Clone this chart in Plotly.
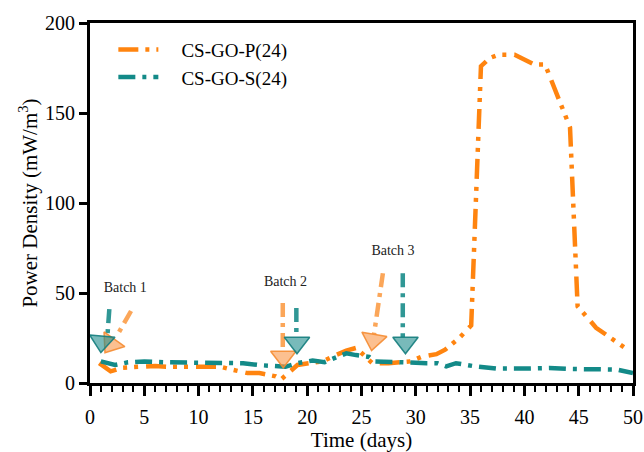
import plotly.graph_objects as go

# ---- data ----
p_days = [0.85, 1.9, 3, 4, 5, 6, 7, 8, 9, 10, 11, 12, 13.1, 14.5, 15.6, 17.1, 17.6, 18.4, 19.1, 20.2,
          21.4, 22.7, 23.6, 24.5, 26, 27.5, 28.5, 29.5, 30.5, 31.9, 32.7, 34, 35.1, 36, 36.8, 37.6,
          39.1, 40, 40.9, 41.9, 44.2, 44.9, 46.6, 48.2, 49.5]
p_vals = [11, 6.5, 8.5, 9, 9, 9.5, 9, 9, 9, 9, 9.5, 9, 7.4, 5.5, 5.5, 3.7, 2, 6.5, 10, 11,
          12, 15.7, 18, 19.5, 11, 11, 11.5, 12, 14.5, 16, 18.5, 25, 32, 176, 180.5, 182.4,
          182.4, 179.6, 177, 177, 142, 42.6, 30.7, 24, 18.5]

s_days = [1, 2.3, 3.5, 5, 7, 9, 11, 12.5, 14.1, 15.5, 17, 18, 19.1, 20.5, 21.6, 22.2, 23.6, 24.5,
          25.7, 26.2, 27.5, 29, 31, 32, 32.8, 33.7, 35.2, 37.4, 40, 42.3, 44, 46, 48.5, 50]
s_vals = [12, 10, 11.5, 12, 11.5, 11.5, 11.5, 11.5, 11, 10, 9.5, 9, 11, 12.5, 11.6, 13, 16.5, 15.5,
          14.5, 12, 11.5, 11.5, 11, 11, 9.2, 11, 9.5, 8, 8, 8.3, 7.8, 7.5, 7.5, 5.5]

series_names = ["CS-GO-P(24)", "CS-GO-S(24)"]

# batch markers: label, label position, arrow shafts (start, end) and heads
batch_labels = ["Batch 1", "Batch 2", "Batch 3"]
batch_label_x = [3.25, 18.0, 27.9]
batch_label_y = [52.4, 56.0, 73.0]

p_arrow_x0 = [3.78, 17.75, 26.97]
p_arrow_y0 = [40.0, 44.5, 61.0]
p_arrow_x1 = [2.45, 17.75, 26.15]
p_arrow_y1 = [26.0, 19.0, 27.0]
p_head_x = [1.96, 17.8, 26.1]
p_head_y = [21.8, 14.6, 24.0]
p_head_angle = [35, 0, 10]

s_arrow_x0 = [1.78, 19.0, 28.8]
s_arrow_y0 = [41.0, 41.6, 61.0]
s_arrow_x1 = [1.6, 19.0, 28.8]
s_arrow_y1 = [26.0, 25.5, 25.5]
s_head_x = [1.09, 19.06, 29.05]
s_head_y = [23.0, 22.4, 22.4]
s_head_angle = [5, 0, 0]

x_ticks = [0, 5, 10, 15, 20, 25, 30, 35, 40, 45, 50]
y_ticks = [0, 50, 100, 150, 200]

ORANGE = "#FF840F"
TEAL = "#138A88"
FONT = "Liberation Serif"
PAD = "\u00a0" * 3 + "\u2009"

fig = go.Figure()

fig.add_trace(go.Scatter(
    x=p_days, y=p_vals, mode="lines", name=PAD + series_names[0],
    line=dict(color=ORANGE, width=4.5, dash="20px,7px,4px,7px,4px,8px"),
))
fig.add_trace(go.Scatter(
    x=s_days, y=s_vals, mode="lines", name=PAD + series_names[1],
    line=dict(color=TEAL, width=4.5, dash="17px,7px,4px,7px"),
))

# arrow shafts
for i in range(3):
    fig.add_trace(go.Scatter(
        x=[p_arrow_x0[i], p_arrow_x1[i]], y=[p_arrow_y0[i], p_arrow_y1[i]],
        mode="lines", showlegend=False, hoverinfo="skip",
        line=dict(color="rgba(250,150,60,0.85)", width=4.5, dash="14px,6px,4px,6px"),
    ))
    fig.add_trace(go.Scatter(
        x=[s_arrow_x0[i], s_arrow_x1[i]], y=[s_arrow_y0[i], s_arrow_y1[i]],
        mode="lines", showlegend=False, hoverinfo="skip",
        line=dict(color="rgba(25,140,138,0.9)", width=4.5, dash="14px,6px,4px,6px"),
    ))

# arrow heads
fig.add_trace(go.Scatter(
    x=p_head_x, y=p_head_y, mode="markers", showlegend=False, hoverinfo="skip",
    marker=dict(symbol="triangle-down", size=22, angle=p_head_angle,
                color="rgba(250,150,70,0.6)", line=dict(color="rgba(245,140,50,0.9)", width=1.5)),
))
fig.add_trace(go.Scatter(
    x=s_head_x, y=s_head_y, mode="markers", showlegend=False, hoverinfo="skip",
    marker=dict(symbol="triangle-down", size=22, angle=s_head_angle,
                color="rgba(30,140,140,0.6)", line=dict(color="rgba(20,125,125,0.9)", width=1.5)),
))

# batch labels
fig.add_trace(go.Scatter(
    x=batch_label_x, y=batch_label_y, mode="text", text=batch_labels,
    showlegend=False, hoverinfo="skip",
    textfont=dict(family=FONT, size=14, color="#222222"),
))

fig.update_layout(
    width=644, height=452,
    margin=dict(l=90, r=11, t=23, b=69, autoexpand=False),
    paper_bgcolor="white", plot_bgcolor="white",
    font=dict(family=FONT, color="black"),
    legend=dict(
        x=0.043, y=0.979, xanchor="left", yanchor="top",
        bgcolor="rgba(0,0,0,0)", font=dict(family=FONT, size=19, color="black"),
        itemwidth=40, tracegroupgap=0,
    ),
    xaxis=dict(
        range=[0, 50], tickmode="array", tickvals=x_ticks,
        ticktext=[str(t) for t in x_ticks], automargin=False,
        showgrid=False, zeroline=False,
        showline=True, linecolor="black", linewidth=3, mirror=True,
        ticks="outside", ticklen=10, tickwidth=3, tickcolor="black",
        ticklabelstandoff=4,
        tickfont=dict(family=FONT, size=20, color="black"),
        minor=dict(dtick=1, ticks="outside", ticklen=6, tickwidth=2, tickcolor="black"),
        title=dict(text="Time (days)", font=dict(family=FONT, size=21, color="black"), standoff=7),
    ),
    yaxis=dict(
        range=[0, 200], tickmode="array", tickvals=y_ticks,
        ticktext=[str(t) for t in y_ticks], automargin=False,
        showgrid=False, zeroline=False,
        showline=True, linecolor="black", linewidth=3, mirror=True,
        ticks="outside", ticklen=8, tickwidth=3, tickcolor="black",
        tickfont=dict(family=FONT, size=20, color="black"),
        title=dict(text="Power Density (mW/m<sup>3</sup>)",
                   font=dict(family=FONT, size=21, color="black"), standoff=2),
    ),
)

fig.write_html("out.html", config={"displayModeBar": False},
               post_script="document.body.style.margin='0';document.body.style.overflow='hidden';")
